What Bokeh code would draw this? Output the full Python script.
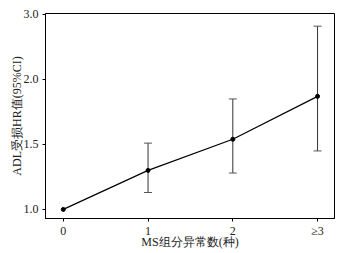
import numpy as np
from bokeh.plotting import figure
from bokeh.models import ColumnDataSource, Whisker, FixedTicker, TeeHead
from bokeh.embed import file_html
from bokeh.resources import INLINE

# Data
categories = ["0", "1", "2", "≥3"]
hr = [1.00, 1.30, 1.54, 1.87]
ci_low = [1.00, 1.13, 1.28, 1.45]
ci_high = [1.00, 1.51, 1.85, 2.82]
y_tick_values = [1.0, 1.5, 2.0, 3.0]
y_tick_labels = ["1.0", "1.5", "2.0", "3.0"]

# the original axis places its ticks evenly (piecewise scale)
tick_pos = list(range(len(y_tick_values)))
def to_pos(v):
    return np.interp(np.asarray(v, dtype=float), y_tick_values, tick_pos)

x = list(range(len(categories)))
src = ColumnDataSource(dict(x=x, y=to_pos(hr)))
err = ColumnDataSource(dict(x=x[1:], lo=to_pos(ci_low)[1:], hi=to_pos(ci_high)[1:]))

FONT = "Liberation Serif"
p = figure(frame_width=289, frame_height=205, output_backend="svg", toolbar_location=None,
           x_range=(-0.21, 3.2), y_range=(-0.14, 3.015),
           min_border_left=45, min_border_right=14, min_border_top=13, min_border_bottom=35)
p.grid.visible = False
p.outline_line_color = "black"
p.outline_line_width = 1
p.background_fill_color = "white"
p.border_fill_color = "white"

p.add_layout(Whisker(source=err, base="x", lower="lo", upper="hi",
                     line_color="#333333", line_width=1,
                     lower_head=TeeHead(size=8, line_color="#555555", line_width=1),
                     upper_head=TeeHead(size=8, line_color="#555555", line_width=1)))

p.line("x", "y", source=src, line_color="black", line_width=1.2)
p.scatter("x", "y", source=src, size=4, color="black")

p.xaxis.ticker = FixedTicker(ticks=x)
p.xaxis.major_label_overrides = {i: c for i, c in zip(x, categories)}
p.yaxis.ticker = FixedTicker(ticks=tick_pos)
p.yaxis.major_label_overrides = {i: l for i, l in zip(tick_pos, y_tick_labels)}

for ax in (p.xaxis[0], p.yaxis[0]):
    ax.axis_line_color = "black"
    ax.major_tick_line_color = "black"
    ax.major_tick_out = 3
    ax.major_tick_in = 0
    ax.minor_tick_line_color = None
    ax.major_label_text_font = FONT
    ax.major_label_text_font_size = "12px"
    ax.major_label_text_color = "#222222"
    ax.axis_label_text_font = FONT
    ax.axis_label_text_font_size = "12px"
    ax.axis_label_text_font_style = "normal"
    ax.axis_label_text_color = "#222222"

p.xaxis.axis_label = "MS组分异常数(种)"
p.yaxis.axis_label = "ADL受损HR值(95%CI)"
p.xaxis.major_label_standoff = 2
p.xaxis.axis_label_standoff = -6
p.yaxis.major_label_standoff = 4
p.yaxis.axis_label_standoff = -3

open("out.html", "w").write(file_html(p, INLINE))
